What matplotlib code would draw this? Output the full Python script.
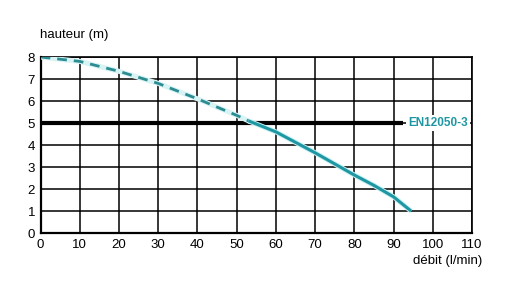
import matplotlib
matplotlib.use("Agg")
import matplotlib.pyplot as plt
from matplotlib import font_manager

names = {f.name for f in font_manager.fontManager.ttflist}
fam = "Liberation Sans Narrow" if "Liberation Sans Narrow" in names else "Liberation Sans"
plt.rcParams["font.family"] = [fam, "DejaVu Sans"]

x_ticks = [0, 10, 20, 30, 40, 50, 60, 70, 80, 90, 100, 110]
y_ticks = [0, 1, 2, 3, 4, 5, 6, 7, 8]
dash_x = [0, 10, 20, 30, 40, 50, 53]
dash_y = [8, 7.8, 7.35, 6.8, 6.1, 5.35, 5.1]
solid_x = [53, 60, 70, 80, 85, 90, 94.5]
solid_y = [5.1, 4.6, 3.65, 2.64, 2.17, 1.65, 1.0]
norm_level = 5
norm_end = 92.5
norm_label = "EN12050-3"

teal = "#1f97a3"

fig = plt.figure(figsize=(5.08, 2.97), dpi=100)
ax = fig.add_axes([0.080, 0.215, 0.849, 0.593])
ax.set_xlim(0, 110)
ax.set_ylim(0, 8)
ax.set_xticks(x_ticks)
ax.set_yticks(y_ticks)
ax.grid(True, color="black", linewidth=1.1)
ax.set_axisbelow(True)
for s in ax.spines.values():
    s.set_linewidth(1.2)
ax.spines["left"].set_linewidth(1.6)
ax.spines["bottom"].set_linewidth(1.6)
ax.tick_params(length=0, labelsize=9.5, pad=4)

ax.plot([0, norm_end], [norm_level, norm_level], color="black", linewidth=3, solid_capstyle="butt", zorder=3)
ax.text(norm_end + 1.2, norm_level, norm_label, color=teal, fontsize=8.5, fontweight="bold",
        va="center", ha="left", zorder=6,
        bbox=dict(facecolor="white", edgecolor="none", pad=1.5))

ax.plot(dash_x, dash_y, color="#d8f3f4", linewidth=3.6, zorder=4)
ax.plot(dash_x, dash_y, color="#2b8c92", linewidth=2.0, linestyle=(0, (3.5, 2.5)), zorder=5)
ax.plot(solid_x, solid_y, color="#c8f1f4", linewidth=3.6, zorder=4, solid_capstyle="butt")
ax.plot(solid_x, solid_y, color=teal, linewidth=2.2, zorder=5, solid_capstyle="butt")

fig.text(40 / 508, 1 - 35 / 297, "hauteur (m)", fontsize=9.5, ha="left", va="center")
fig.text(482 / 508, 1 - 261 / 297, "débit (l/min)", fontsize=9.5, ha="right", va="center")

fig.savefig("out.png", dpi=100)
